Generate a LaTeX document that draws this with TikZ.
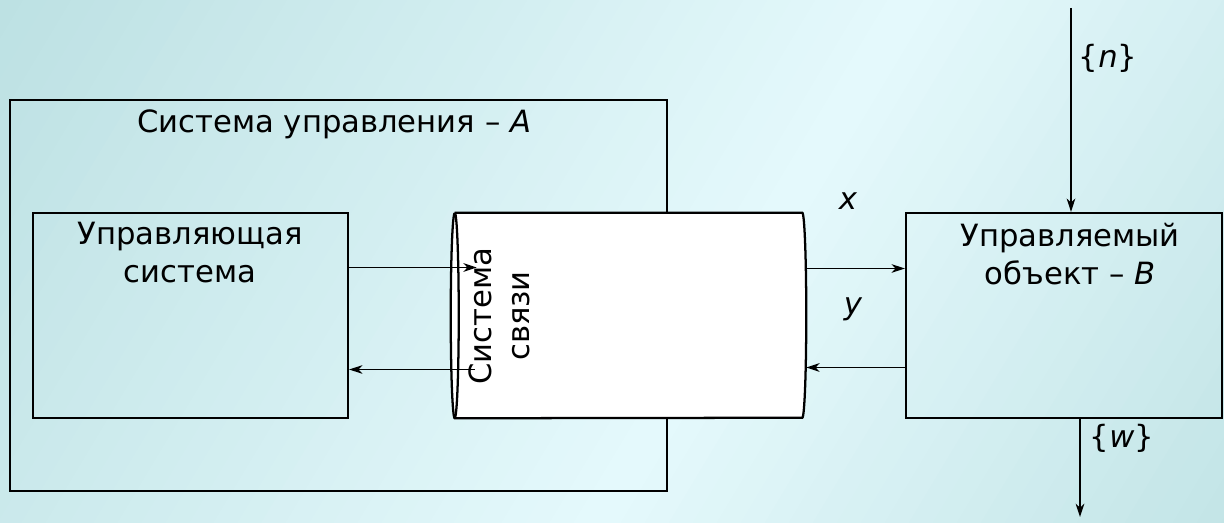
\documentclass[tikz,border=0pt]{standalone}
\usepackage{fontspec}
\setmainfont{DejaVu Sans}
\usetikzlibrary{arrows.meta,calc}
\definecolor{bgteal}{RGB}{189,225,227}
\definecolor{bglight}{RGB}{229,249,252}
\definecolor{bgteal2}{RGB}{194,228,230}
\begin{document}
\begin{tikzpicture}[x=0.75pt,y=-0.75pt,
    every node/.style={font=\fontsize{23}{28.5}\selectfont},
    blk/.style={draw,line width=1.7pt,inner sep=0pt},
    sig/.style={line width=1.15pt,-{Stealth[length=10pt,width=6.5pt,inset=3pt]}},
    lbl/.style={anchor=base,inner sep=0pt}]
        \begin{scope}
            \clip (0,0) rectangle (1224,523);
            \foreach \i in {0,...,64} {
                \pgfmathsetmacro\s{24*\i}
                \pgfmathsetmacro\p{\s<900 ? \s/9 : max(0,100-(\s-900)/6.4)}
                \pgfmathsetmacro\q{\s<900 ? 0 : 1}
                \ifdim\q pt<0.5pt
                    \fill[bglight!\p!bgteal] (\s-1,0) -- (\s+25,0) -- (\s-289,523) -- (\s-315,523) -- cycle;
                \else
                    \fill[bglight!\p!bgteal2] (\s-1,0) -- (\s+25,0) -- (\s-289,523) -- (\s-315,523) -- cycle;
                \fi
            }
        \end{scope}
        \useasboundingbox (0,0) rectangle (1224,523);

        \node[blk,minimum width=492.75pt,minimum height=293.25pt] (sys) at (338.5,295.5) {};
        \node[blk,minimum width=236.25pt,minimum height=153.75pt] (ctl) at (190.5,315.5) {};
        \node[blk,minimum width=237pt,minimum height=153.75pt] (obj) at (1064,315.5) {};
        \node[inner sep=0pt,minimum width=260.25pt,minimum height=153.75pt] (link) at (628.5,315.5) {};
        \draw[line width=1.7pt,fill=white] (link.north west) -- (link.north east)
            arc[start angle=90,end angle=-90,x radius=3pt,y radius=76.875pt] -- (link.south west)
            arc[start angle=270,end angle=90,x radius=3pt,y radius=76.875pt];
        \draw[line width=1.7pt] (link.north west) arc[start angle=90,end angle=-90,x radius=3pt,y radius=76.875pt];

        \node[lbl,anchor=base west] (systxt) at (137,133) {Система управления – \textit{A}};
        \node[lbl,align=center] (ctltxt) at (190,283) {Управляющая\\система};
        \node[lbl,align=center] (objtxt) at (1070,285) {Управляемый\\объект – \textit{B}};
        \node[rotate=90,align=center] (linktxt) at (499,316) {Система\\связи};

        \coordinate (nsrc) at (1071,8);
        \coordinate (wout) at (1080,517);

        \draw[sig] ($(ctl.east)+(0,-48)$) -- ($(link.west)+(22,-48)$);
        \draw[sig] ($(link.west)+(20,54)$) -- ($(ctl.east)+(0,54)$);
        \draw[sig] ($(link.east)+(4,-47)$) -- ($(obj.west)+(0,-47)$);
        \draw[sig] ($(obj.west)+(0,52)$) -- ($(link.east)+(4,52)$);
        \draw[sig] (nsrc) -- (nsrc |- obj.north);
        \draw[sig] (wout |- obj.south) -- (wout);

        \node[lbl] (xlab) at (848,210) {\textit{x}};
        \node[lbl] (ylab) at (853,315) {\textit{y}};
        \node[lbl] (nlab) at (1108,68) {\{\textit{n}\}};
        \node[lbl] (wlab) at (1122,448) {\{\textit{w}\}};
    \end{tikzpicture}
\end{document}
